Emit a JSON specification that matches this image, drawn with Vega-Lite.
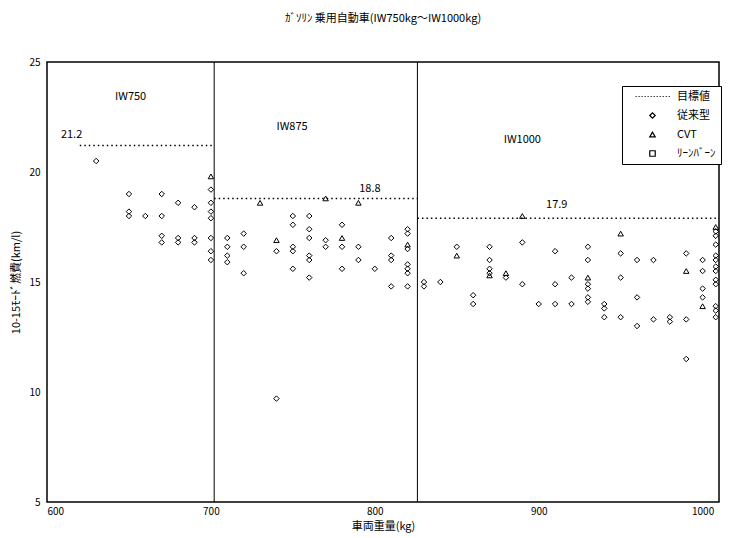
{
  "$schema": "https://vega.github.io/schema/vega-lite/v6.json",
  "width": 672,
  "height": 440,
  "autosize": "none",
  "padding": {"left": 47, "top": 62, "right": 22, "bottom": 36},
  "background": "white",
  "title": {"text": "ｶﾞｿﾘﾝ 乗用自動車(IW750kg～IW1000kg)", "fontSize": 11, "font": "Noto Sans CJK JP", "fontWeight": "normal", "color": "black", "anchor": "middle", "frame": "group", "offset": 33},
  "config": {
    "font": "Noto Sans CJK JP",
    "view": {"stroke": "black", "strokeWidth": 1.5},
    "axis": {"ticks": false, "grid": false, "domain": false, "labelFont": "Noto Sans CJK JP", "labelFontSize": 10, "labelColor": "black", "titleFont": "Noto Sans CJK JP", "titleFontSize": 11, "titleFontWeight": "normal", "titleColor": "black"}
  },
  "datasets": {
    "pts": [
      {"weight": 630, "economy": 20.5, "type": "従来型"},
      {"weight": 650, "economy": 19.0, "type": "従来型"},
      {"weight": 650, "economy": 18.2, "type": "従来型"},
      {"weight": 650, "economy": 18.0, "type": "従来型"},
      {"weight": 660, "economy": 18.0, "type": "従来型"},
      {"weight": 670, "economy": 19.0, "type": "従来型"},
      {"weight": 670, "economy": 18.0, "type": "従来型"},
      {"weight": 670, "economy": 17.1, "type": "従来型"},
      {"weight": 670, "economy": 16.8, "type": "従来型"},
      {"weight": 680, "economy": 18.6, "type": "従来型"},
      {"weight": 680, "economy": 17.0, "type": "従来型"},
      {"weight": 680, "economy": 16.8, "type": "従来型"},
      {"weight": 690, "economy": 18.4, "type": "従来型"},
      {"weight": 690, "economy": 17.0, "type": "従来型"},
      {"weight": 690, "economy": 16.8, "type": "従来型"},
      {"weight": 700, "economy": 19.8, "type": "CVT"},
      {"weight": 700, "economy": 19.2, "type": "従来型"},
      {"weight": 700, "economy": 18.6, "type": "従来型"},
      {"weight": 700, "economy": 18.2, "type": "従来型"},
      {"weight": 700, "economy": 17.9, "type": "従来型"},
      {"weight": 700, "economy": 17.0, "type": "従来型"},
      {"weight": 700, "economy": 16.4, "type": "従来型"},
      {"weight": 700, "economy": 16.0, "type": "従来型"},
      {"weight": 710, "economy": 17.0, "type": "従来型"},
      {"weight": 710, "economy": 16.6, "type": "従来型"},
      {"weight": 710, "economy": 16.2, "type": "従来型"},
      {"weight": 710, "economy": 15.9, "type": "従来型"},
      {"weight": 720, "economy": 17.2, "type": "従来型"},
      {"weight": 720, "economy": 16.6, "type": "従来型"},
      {"weight": 720, "economy": 15.4, "type": "従来型"},
      {"weight": 730, "economy": 18.6, "type": "CVT"},
      {"weight": 740, "economy": 16.9, "type": "CVT"},
      {"weight": 740, "economy": 16.4, "type": "従来型"},
      {"weight": 740, "economy": 9.7, "type": "従来型"},
      {"weight": 750, "economy": 18.0, "type": "従来型"},
      {"weight": 750, "economy": 17.6, "type": "従来型"},
      {"weight": 750, "economy": 16.6, "type": "従来型"},
      {"weight": 750, "economy": 16.4, "type": "従来型"},
      {"weight": 750, "economy": 15.6, "type": "従来型"},
      {"weight": 760, "economy": 18.0, "type": "従来型"},
      {"weight": 760, "economy": 17.4, "type": "従来型"},
      {"weight": 760, "economy": 17.0, "type": "従来型"},
      {"weight": 760, "economy": 16.2, "type": "従来型"},
      {"weight": 760, "economy": 16.0, "type": "従来型"},
      {"weight": 760, "economy": 15.2, "type": "従来型"},
      {"weight": 770, "economy": 18.8, "type": "CVT"},
      {"weight": 770, "economy": 16.9, "type": "従来型"},
      {"weight": 770, "economy": 16.6, "type": "従来型"},
      {"weight": 780, "economy": 17.0, "type": "CVT"},
      {"weight": 780, "economy": 17.6, "type": "従来型"},
      {"weight": 780, "economy": 16.6, "type": "従来型"},
      {"weight": 780, "economy": 15.6, "type": "従来型"},
      {"weight": 790, "economy": 18.6, "type": "CVT"},
      {"weight": 790, "economy": 16.6, "type": "従来型"},
      {"weight": 790, "economy": 16.0, "type": "従来型"},
      {"weight": 800, "economy": 15.6, "type": "従来型"},
      {"weight": 810, "economy": 17.0, "type": "従来型"},
      {"weight": 810, "economy": 16.2, "type": "従来型"},
      {"weight": 810, "economy": 16.0, "type": "従来型"},
      {"weight": 810, "economy": 14.8, "type": "従来型"},
      {"weight": 820, "economy": 17.4, "type": "従来型"},
      {"weight": 820, "economy": 17.2, "type": "従来型"},
      {"weight": 820, "economy": 16.7, "type": "CVT"},
      {"weight": 820, "economy": 16.5, "type": "従来型"},
      {"weight": 820, "economy": 15.8, "type": "従来型"},
      {"weight": 820, "economy": 15.6, "type": "従来型"},
      {"weight": 820, "economy": 15.4, "type": "従来型"},
      {"weight": 820, "economy": 14.8, "type": "従来型"},
      {"weight": 830, "economy": 15.0, "type": "従来型"},
      {"weight": 830, "economy": 14.8, "type": "従来型"},
      {"weight": 840, "economy": 15.0, "type": "従来型"},
      {"weight": 850, "economy": 16.6, "type": "従来型"},
      {"weight": 850, "economy": 16.2, "type": "CVT"},
      {"weight": 860, "economy": 14.4, "type": "従来型"},
      {"weight": 860, "economy": 14.0, "type": "従来型"},
      {"weight": 870, "economy": 16.6, "type": "従来型"},
      {"weight": 870, "economy": 16.0, "type": "従来型"},
      {"weight": 870, "economy": 15.6, "type": "従来型"},
      {"weight": 870, "economy": 15.4, "type": "従来型"},
      {"weight": 870, "economy": 15.3, "type": "CVT"},
      {"weight": 880, "economy": 15.4, "type": "CVT"},
      {"weight": 880, "economy": 15.2, "type": "従来型"},
      {"weight": 890, "economy": 18.0, "type": "CVT"},
      {"weight": 890, "economy": 16.8, "type": "従来型"},
      {"weight": 890, "economy": 14.9, "type": "従来型"},
      {"weight": 900, "economy": 14.0, "type": "従来型"},
      {"weight": 910, "economy": 16.4, "type": "従来型"},
      {"weight": 910, "economy": 14.9, "type": "従来型"},
      {"weight": 910, "economy": 14.0, "type": "従来型"},
      {"weight": 920, "economy": 15.2, "type": "従来型"},
      {"weight": 920, "economy": 14.0, "type": "従来型"},
      {"weight": 930, "economy": 16.6, "type": "従来型"},
      {"weight": 930, "economy": 16.0, "type": "従来型"},
      {"weight": 930, "economy": 15.2, "type": "CVT"},
      {"weight": 930, "economy": 14.9, "type": "従来型"},
      {"weight": 930, "economy": 14.7, "type": "従来型"},
      {"weight": 930, "economy": 14.3, "type": "従来型"},
      {"weight": 930, "economy": 14.1, "type": "従来型"},
      {"weight": 940, "economy": 14.0, "type": "従来型"},
      {"weight": 940, "economy": 13.8, "type": "従来型"},
      {"weight": 940, "economy": 13.4, "type": "従来型"},
      {"weight": 950, "economy": 17.2, "type": "CVT"},
      {"weight": 950, "economy": 16.3, "type": "従来型"},
      {"weight": 950, "economy": 15.2, "type": "従来型"},
      {"weight": 950, "economy": 13.4, "type": "従来型"},
      {"weight": 960, "economy": 16.0, "type": "従来型"},
      {"weight": 960, "economy": 14.3, "type": "従来型"},
      {"weight": 960, "economy": 13.0, "type": "従来型"},
      {"weight": 970, "economy": 16.0, "type": "従来型"},
      {"weight": 970, "economy": 13.3, "type": "従来型"},
      {"weight": 980, "economy": 13.4, "type": "従来型"},
      {"weight": 980, "economy": 13.2, "type": "従来型"},
      {"weight": 990, "economy": 16.3, "type": "従来型"},
      {"weight": 990, "economy": 15.5, "type": "CVT"},
      {"weight": 990, "economy": 13.3, "type": "従来型"},
      {"weight": 990, "economy": 11.5, "type": "従来型"},
      {"weight": 1000, "economy": 16.0, "type": "従来型"},
      {"weight": 1000, "economy": 15.5, "type": "従来型"},
      {"weight": 1000, "economy": 14.7, "type": "従来型"},
      {"weight": 1000, "economy": 14.3, "type": "従来型"},
      {"weight": 1000, "economy": 13.9, "type": "CVT"},
      {"weight": 1008, "economy": 17.5, "type": "CVT"},
      {"weight": 1008, "economy": 17.3, "type": "従来型"},
      {"weight": 1008, "economy": 17.1, "type": "従来型"},
      {"weight": 1008, "economy": 16.7, "type": "従来型"},
      {"weight": 1008, "economy": 16.2, "type": "従来型"},
      {"weight": 1008, "economy": 16.0, "type": "従来型"},
      {"weight": 1008, "economy": 15.7, "type": "従来型"},
      {"weight": 1008, "economy": 15.5, "type": "従来型"},
      {"weight": 1008, "economy": 15.1, "type": "従来型"},
      {"weight": 1008, "economy": 14.9, "type": "従来型"},
      {"weight": 1008, "economy": 13.9, "type": "従来型"},
      {"weight": 1008, "economy": 13.7, "type": "従来型"},
      {"weight": 1008, "economy": 13.4, "type": "従来型"}
    ],
    "targets": [
      {"start": 620, "end": 702, "target": 21.2},
      {"start": 702, "end": 826, "target": 18.8},
      {"start": 826, "end": 1010, "target": 17.9}
    ],
    "bounds": [{"boundary": 702}, {"boundary": 826}],
    "labels": [
      {"lx": 651, "ly": 23.4, "label": "IW750"},
      {"lx": 749.5, "ly": 22.05, "label": "IW875"},
      {"lx": 890, "ly": 21.45, "label": "IW1000"},
      {"lx": 615, "ly": 21.7, "label": "21.2"},
      {"lx": 797, "ly": 19.23, "label": "18.8"},
      {"lx": 911, "ly": 18.5, "label": "17.9"}
    ]
  },
  "layer": [
    {
      "data": {"name": "targets"},
      "mark": {"type": "rule", "color": "black", "strokeWidth": 1.5, "strokeDash": [1.5, 3]},
      "encoding": {
        "x": {"field": "start", "type": "quantitative", "scale": {"domain": [600, 1010], "nice": false, "zero": false}},
        "x2": {"field": "end"},
        "y": {"field": "target", "type": "quantitative", "scale": {"domain": [5, 25], "nice": false, "zero": false}}
      }
    },
    {
      "data": {"name": "bounds"},
      "mark": {"type": "rule", "color": "black", "strokeWidth": 1},
      "encoding": {
        "x": {"field": "boundary", "type": "quantitative"}
      }
    },
    {
      "data": {"name": "pts"},
      "mark": {"type": "point", "filled": false, "color": "black", "strokeWidth": 1, "size": 30, "opacity": 1},
      "encoding": {
        "x": {"field": "weight", "type": "quantitative", "title": "車両重量(kg)", "axis": {"values": [600, 700, 800, 900, 1000], "format": "d", "labelPadding": 4, "titlePadding": 4}},
        "y": {"field": "economy", "type": "quantitative", "title": "10-15ﾓｰﾄﾞ燃費(km/l)", "axis": {"values": [5, 10, 15, 20, 25], "labelPadding": 7, "titlePadding": 7}},
        "shape": {
          "field": "type",
          "type": "nominal",
          "scale": {
            "domain": ["目標値", "従来型", "CVT", "ﾘｰﾝﾊﾞｰﾝ"],
            "range": ["M-6.2,0h0.4M-5.1,0h0.4M-4,0h0.4M-2.9,0h0.4M-1.8,0h0.4M-0.7,0h0.4M0.4,0h0.4M1.5,0h0.4M2.6,0h0.4M3.7,0h0.4M4.8,0h0.4M5.9,0h0.4", "diamond", "triangle-up", "square"]
          },
          "legend": {
            "title": null,
            "orient": "none",
            "legendX": 575,
            "legendY": 24,
            "padding": 5,
            "strokeColor": "black",
            "fillColor": "white",
            "symbolOffset": 20,
            "labelOffset": 19,
            "symbolSize": 30,
            "symbolStrokeColor": "black",
            "symbolStrokeWidth": 1.2,
            "symbolFillColor": "transparent",
            "labelFontSize": 11,
            "labelColor": "black",
            "rowPadding": 7
          }
        }
      }
    },
    {
      "data": {"name": "labels"},
      "mark": {"type": "text", "fontSize": 11, "color": "black", "align": "center", "baseline": "middle"},
      "encoding": {
        "x": {"field": "lx", "type": "quantitative"},
        "y": {"field": "ly", "type": "quantitative"},
        "text": {"field": "label"}
      }
    }
  ]
}
